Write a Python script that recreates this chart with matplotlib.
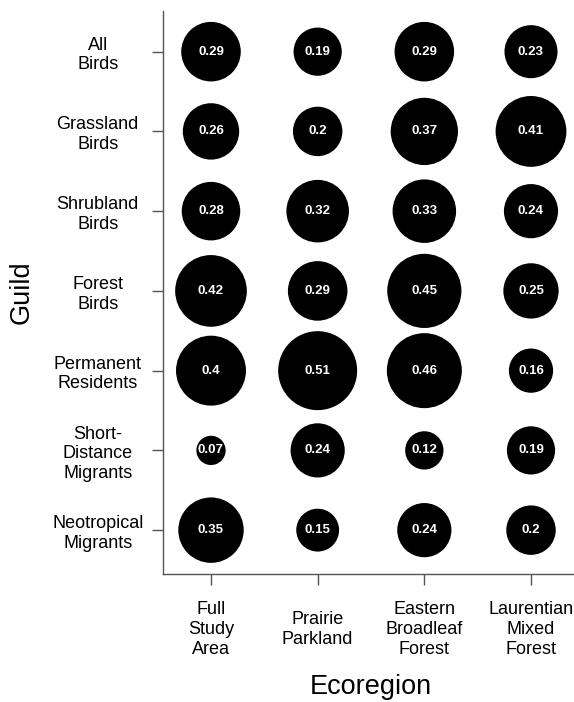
import numpy as np
import matplotlib
matplotlib.use("Agg")
import matplotlib.pyplot as plt

plt.rcParams['font.family'] = ['Liberation Sans', 'DejaVu Sans']

guilds = ["All\nBirds", "Grassland\nBirds", "Shrubland\nBirds", "Forest\nBirds",
          "Permanent\nResidents", "Short-\nDistance\nMigrants", "Neotropical\nMigrants"]
ecoregions = ["Full\nStudy\nArea", "Prairie\nParkland", "Eastern\nBroadleaf\nForest",
              "Laurentian\nMixed\nForest"]

full_study = [0.29, 0.26, 0.28, 0.42, 0.40, 0.07, 0.35]
prairie = [0.19, 0.20, 0.32, 0.29, 0.51, 0.24, 0.15]
eastern = [0.29, 0.37, 0.33, 0.45, 0.46, 0.12, 0.24]
laurentian = [0.23, 0.41, 0.24, 0.25, 0.16, 0.19, 0.20]

W, H = 574, 702
fig = plt.figure(figsize=(W / 100, H / 100), dpi=100)
ax = fig.add_axes([163 / W, 1 - 574 / H, (579 - 163) / W, (574 - 11) / H])

cols = [full_study, prairie, eastern, laurentian]
rows = np.arange(1, len(guilds) + 1)
for j, vals in enumerate(cols):
    vals = np.array(vals)
    x = np.full(len(vals), j + 1)
    # bubble area proportional to value
    ax.scatter(x, rows, s=6340 * vals, c="black", edgecolors="none", zorder=2)
    for xi, yi, v in zip(x, rows, vals):
        ax.text(xi, yi, f"{v:g}", color="white", fontsize=9.5, fontweight="bold",
                ha="center", va="center", zorder=3)

ax.set_xlim(0.55, 4.45)
ax.set_ylim(7.55, 0.49)

ax.set_xticks(np.arange(1, 5))
ax.set_xticklabels(ecoregions, fontsize=13, va="center", multialignment="center")
ax.set_yticks(rows)
ax.set_yticklabels(guilds, fontsize=13, ha="center", multialignment="center")

ax.tick_params(axis="y", length=8, width=1, color="#555555", pad=39)
ax.tick_params(axis="x", length=8, width=1, color="#555555", pad=32)

for side in ["top", "right"]:
    ax.spines[side].set_visible(False)
for side in ["left", "bottom"]:
    ax.spines[side].set_color("#555555")
    ax.spines[side].set_linewidth(1)

fig.text(22 / W, 1 - 292 / H, "Guild", fontsize=19.5, rotation=90, ha="center", va="center")
fig.text(371 / W, 1 - 687 / H, "Ecoregion", fontsize=19.5, ha="center", va="center")

fig.savefig("out.png", dpi=100)
